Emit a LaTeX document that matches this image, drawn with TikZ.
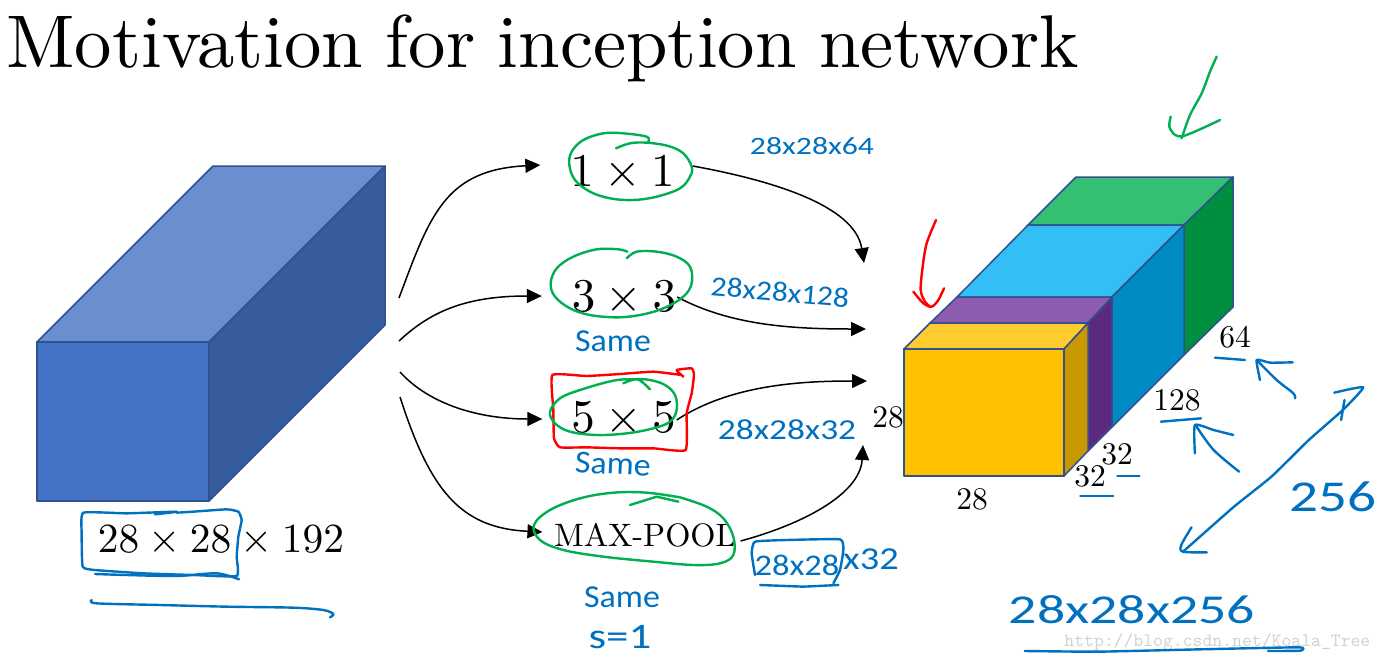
\documentclass[tikz,border=0pt]{standalone}
\usepackage{fontspec}
\usetikzlibrary{arrows.meta}
\newfontfamily\handfont{Carlito}
\definecolor{penblue}{HTML}{0070C0}
\definecolor{pengreen}{HTML}{00B050}
\definecolor{edgeblue}{HTML}{2F528F}
\tikzset{
  flow/.style={draw,line width=1.5pt,-{Triangle[length=15pt,width=14pt]}},
  face/.style={draw=edgeblue,line width=1.5pt,line join=round},
  bluepen/.style={draw=penblue,line width=2.4pt,line cap=round,line join=round},
  greenpen/.style={draw=pengreen,line width=2.4pt,line cap=round,line join=round},
  redpen/.style={draw=red,line width=2.4pt,line cap=round,line join=round},
  hand/.style={text=penblue,font=\handfont,inner sep=0pt},
  dim/.style={scale=3.15,inner sep=0pt}
}
\begin{document}
\begin{tikzpicture}[x=1pt,y=-1pt]
\useasboundingbox (0,0) rectangle (1388,659);
\node[anchor=base west,scale=7.47,inner sep=0pt] (title) at (5,67) {\spaceskip=0.3em Motivation for inception network};

\path[face,fill={rgb,255:red,106;green,142;blue,207}] (37,342) -- (213,166) -- (385,166) -- (209,342) -- cycle;
\path[face,fill={rgb,255:red,54;green,92;blue,158}] (209,342) -- (385,166) -- (385,325) -- (209,501) -- cycle;
\path[face,fill={rgb,255:red,68;green,114;blue,196}] (37,342) rectangle (209,501);

\path[face,fill={rgb,255:red,51;green,192;blue,114}] (1076,177) -- (1233,177) -- (1184,225) -- (1028,225) -- cycle;
\path[face,fill={rgb,255:red,0;green,142;blue,64}] (1184,225) -- (1233,177) -- (1233,307) -- (1184,355) -- cycle;
\path[face,fill={rgb,255:red,51;green,190;blue,245}] (1028,225) -- (1184,225) -- (1112,297) -- (957,297) -- cycle;
\path[face,fill={rgb,255:red,0;green,140;blue,195}] (1112,297) -- (1184,225) -- (1184,355) -- (1112,427) -- cycle;
\path[face,fill={rgb,255:red,141;green,91;blue,176}] (957,297) -- (1112,297) -- (1088,323) -- (930,323) -- cycle;
\path[face,fill={rgb,255:red,91;green,42;blue,128}] (1088,323) -- (1112,297) -- (1112,427) -- (1088,451) -- cycle;
\path[face,fill={rgb,255:red,255;green,203;blue,47}] (930,323) -- (1088,323) -- (1064,349) -- (904,349) -- cycle;
\path[face,fill={rgb,255:red,201;green,151;blue,0}] (1064,349) -- (1088,323) -- (1088,451) -- (1064,476) -- cycle;
\path[face,fill={rgb,255:red,255;green,192;blue,0}] (904,349) rectangle (1064,476);

\node[scale=4.14,inner sep=0pt] (shape) at (221,541) {$28\times 28\times 192$};
\node[scale=4.7,inner sep=0pt] (opa) at (622.5,173) {$1\times 1$};
\node[scale=4.7,inner sep=0pt] (opb) at (624,298) {$3\times 3$};
\node[scale=4.7,inner sep=0pt] (opc) at (623.5,419) {$5\times 5$};
\node[scale=3.24,inner sep=0pt] (opd) at (645,535) {MAX-POOL};

\node[dim] (dima) at (1235,337) {64};
\node[dim] (dimb) at (1177,400) {128};
\node[dim] (dimc) at (1117,454) {32};
\node[dim] (dimd) at (1090,476) {32};
\node[dim] (dime) at (888,417) {28};
\node[dim] (dimf) at (972,499) {28};

\coordinate (ina) at (399,298);
\coordinate (inb) at (399,341);
\coordinate (inc) at (400,372);
\coordinate (ind) at (400,397);
\coordinate (outa) at (864,263);
\coordinate (outb) at (866,329);
\coordinate (outc) at (867,381);
\coordinate (outd) at (863,445);
\path[flow] (ina) .. controls (430,215) and (445,170) .. ([xshift=-29pt,yshift=8pt]opa.west);
\path[flow] (inb) .. controls (430,312) and (465,296) .. ([xshift=-29pt,yshift=2pt]opb.west);
\path[flow] (inc) .. controls (430,405) and (480,419) .. ([xshift=-28pt,yshift=0pt]opc.west);
\path[flow] (ind) .. controls (430,490) and (460,528) .. ([xshift=-11pt,yshift=3pt]opd.west);
\path[flow] ([xshift=17pt,yshift=7pt]opa.east) .. controls (770,180) and (855,205) .. (outa);
\path[flow] ([xshift=0pt,yshift=1pt]opb.east) .. controls (730,325) and (790,329) .. (outb);
\path[flow] ([xshift=0pt,yshift=-1pt]opc.east) .. controls (730,385) and (800,381) .. (outc);
\path[flow] ([xshift=4pt,yshift=-6pt]opd.east) .. controls (800,525) and (860,495) .. (outd);

\node[hand,scale=2.5,xscale=1.27] (nota) at (812,146) {28x28x64};
\node[hand,scale=2.8,rotate=-5,xscale=1.12] (notb) at (780,292) {28x28x128};
\node[hand,scale=2.9,xscale=1.22] (notc) at (787,430) {28x28x32};
\node[hand,scale=3,xscale=1.15] (notd) at (797,565) {28x28};
\node[hand,scale=3.2,xscale=1.2] (note) at (871,559) {x32};
\node[hand,scale=3.2,xscale=1.06] (notf) at (613,341) {Same};
\node[hand,scale=3.2,rotate=-3,xscale=1.06] (notg) at (613,464) {Same};
\node[hand,scale=3.2,xscale=1.06] (noth) at (622,597) {Same};
\node[hand,scale=3.6,xscale=1.25] (noti) at (620,637) {s=1};
\node[hand,scale=4.4,xscale=1.3] (notj) at (1333,497) {256};
\node[hand,scale=4.1,xscale=1.36] (notk) at (1132,610) {28x28x256};
\node[anchor=base west,text=black!18,font=\ttfamily,scale=1.88,inner sep=0pt] (mark) at (1064,646) {http://blog.csdn.net/Koala\_Tree};

\begin{scope}[shift={(540,120)},scale=1/3]
\path[greenpen] plot[smooth,tension=0.6] coordinates {(325,65) (320,50) (250,40) (190,40) (130,60) (95,95) (88,135) (105,180) (150,215) (210,235) (280,240) (350,230) (420,205) (450,170) (455,140) (430,100) (385,78) (320,68) (270,70) (228,85)};
\path[greenpen] plot[smooth,tension=0.6] coordinates {(262,395) (235,388) (170,388) (100,410) (50,445) (32,490) (45,530) (90,565) (150,585) (230,592) (300,585) (370,565) (430,530) (455,490) (450,440) (410,410) (350,395) (290,395) (260,415)};
\end{scope}
\begin{scope}[shift={(520,360)},scale=1/3]
\path[redpen] plot[smooth,tension=0.25] coordinates {(490,50) (470,30) (515,25) (522,45) (515,100) (500,160) (497,270) (400,265) (300,265) (200,262) (120,262) (102,235) (100,150) (97,45) (200,48) (300,42) (400,35) (485,45)};
\path[greenpen] plot[smooth,tension=0.6] coordinates {(390,88) (365,65) (345,58) (280,62) (180,90) (120,115) (90,155) (105,190) (150,215) (230,225) (320,220) (400,205) (450,185) (470,150) (465,105) (435,75) (390,60) (345,58) (310,70)};
\path[greenpen] plot[smooth,tension=0.6] coordinates {(480,412) (380,398) (280,398) (180,415) (90,450) (42,495) (60,540) (130,570) (250,590) (400,605) (520,615) (600,610) (640,585) (640,530) (610,475) (560,440) (480,412)};
\path[greenpen] (330,435) -- (410,410) -- (475,425);
\path[bluepen] plot[smooth,tension=0.25] coordinates {(705,645) (695,580) (705,545) (800,540) (960,538) (970,570) (960,630) (940,670)};
\path[bluepen] (720,675) -- (850,680) -- (955,675);
\end{scope}
\begin{scope}[shift={(60,490)},scale=1/3]
\path[bluepen] plot[smooth,tension=0.25] coordinates {(285,73) (350,65) (200,70) (70,68) (65,130) (68,230) (105,240) (250,250) (400,255) (530,258) (530,200) (535,140) (545,90) (535,65) (500,58) (400,65) (350,68)};
\path[bluepen] plot[smooth,tension=0.5] coordinates {(105,252) (200,255) (350,258) (470,250) (537,268)};
\path[bluepen] plot[smooth,tension=0.5] coordinates {(95,330) (110,340) (300,345) (500,350) (700,353) (790,360) (820,372) (810,382)};
\end{scope}
\begin{scope}[shift={(880,40)},scale=1/3]
\path[greenpen] plot[smooth,tension=0.5] coordinates {(1010,50) (990,95) (965,160) (930,225) (905,295)};
\path[greenpen] plot[smooth,tension=0.5] coordinates {(872,230) (868,260) (885,285) (910,288) (960,268) (1020,240)};
\path[redpen] plot[smooth,tension=0.5] coordinates {(168,540) (140,610) (128,680) (122,750) (135,785) (150,800)};
\path[redpen] plot[smooth,tension=0.5] coordinates {(100,755) (130,790) (155,800) (175,780) (192,745)};
\path[bluepen] (1005,953) -- (1095,960);
\path[bluepen] plot[smooth,tension=0.3] coordinates {(1238,967) (1170,968) (1130,960) (1140,1020)};
\path[bluepen] plot[smooth,tension=0.5] coordinates {(1130,960) (1190,1020) (1240,1060) (1245,1075)};
\end{scope}
\begin{scope}[shift={(860,370)},xscale=0.34,yscale=1/3]
\path[bluepen] (885,155) -- (1003,145);
\path[bluepen] (757,318) -- (822,318);
\path[bluepen] (648,378) -- (745,378);
\path[bluepen] plot[smooth,tension=0.3] coordinates {(1098,195) (1040,180) (985,165) (985,250)};
\path[bluepen] plot[smooth,tension=0.5] coordinates {(990,170) (1040,240) (1115,305)};
\path[bluepen] plot[smooth,tension=0.3] coordinates {(1395,68) (1480,52) (1420,120) (1320,210) (1210,320) (1100,410) (950,545)};
\path[bluepen] plot[smooth,tension=0.5] coordinates {(975,472) (945,525) (950,545) (1020,547)};
\path[bluepen] (1425,90) -- (1415,150);
\path[bluepen] plot[smooth,tension=0.3] coordinates {(485,843) (700,845) (1000,838) (1290,832) (1295,842) (1200,843)};
\end{scope}
\end{tikzpicture}
\end{document}
